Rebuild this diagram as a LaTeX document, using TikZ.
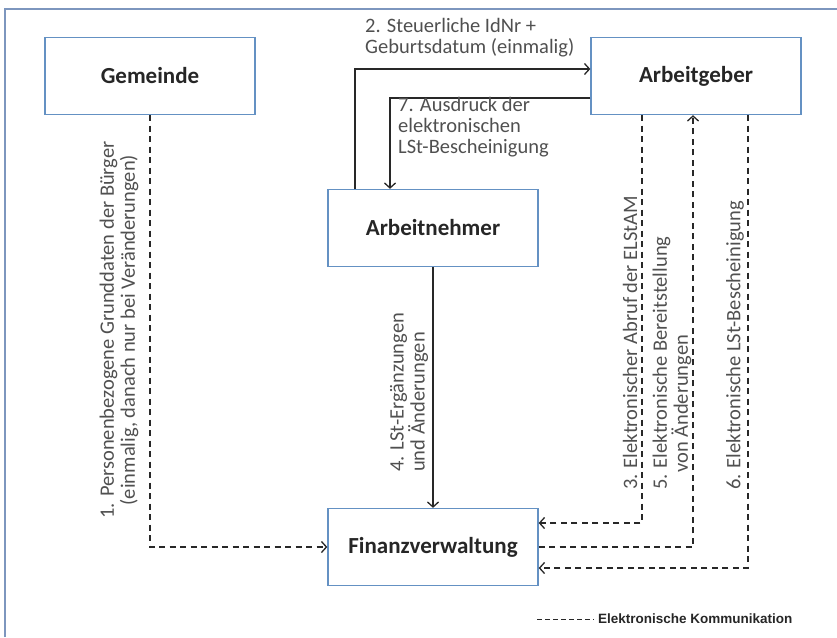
\documentclass[tikz,border=0pt]{standalone}
\usepackage{fontspec}
\setmainfont{Carlito}
\newfontfamily\legendfont{Liberation Sans}
\usetikzlibrary{positioning,arrows.meta}
\definecolor{boxblue}{RGB}{100,145,195}
\definecolor{framecol}{RGB}{125,150,190}
\definecolor{lblgray}{RGB}{80,80,80}
\definecolor{linegray}{RGB}{40,40,40}

\begin{document}
\begin{tikzpicture}[x=1pt, y=-1pt,
    box/.style={rectangle, draw=boxblue, line width=1.3pt, fill=white, minimum width=210pt, minimum height=77pt, font=\fontsize{23}{27}\selectfont\bfseries, text=black!85},
    lbl/.style={inner sep=0pt, font=\fontsize{20.5}{21}\selectfont, text=lblgray},
    flow/.style={draw=linegray, line width=1.3pt, -{Straight Barb[length=5pt,width=11pt]}},
    ekom/.style={flow, dash pattern=on 6pt off 4.5pt}]
    \useasboundingbox (0,0) rectangle (837,637);
    \draw[framecol, line width=1.5pt] (5,637) -- (5,9) -- (837,9);

    \node[box] (gem) at (150,76) {Gemeinde};
    \node[box] (ag) at (696,76) {Arbeitgeber};
    \node[box] (an) at (433,228) {Arbeitnehmer};
    \node[box] (fv) at (433,547) {Finanzverwaltung};

    \draw[ekom] (gem.south) |- (fv.west);
    \draw[flow] ([xshift=-78pt]an.north) |- ([yshift=7pt]ag.west);
    \draw[flow] ([yshift=-22pt]ag.west) -| ([xshift=-43pt]an.north);
    \draw[flow] (an.south) -- (fv.north);
    \draw[ekom] ([xshift=-54pt]ag.south) |- ([yshift=24pt]fv.east);
    \draw[ekom] (fv.east) -| ([xshift=-3pt]ag.south);
    \draw[ekom] ([xshift=52pt]ag.south) |- ([yshift=-21pt]fv.east);

    \node[lbl, anchor=north west, align=left] (l2) at (365,18) {2. Steuerliche IdNr +\\Geburtsdatum (einmalig)};
    \node[lbl, anchor=north west, align=left] (l7) at (398,97) {7. Ausdruck der\\elektronischen\\LSt-Bescheinigung};
    \node[lbl, rotate=90, align=center] (l1) at (119,330) {1. Personenbezogene Grunddaten der Bürger\\(einmalig, danach nur bei Veränderungen)};
    \node[lbl, rotate=90, anchor=west, align=left] (l4) at (409,472) {4. LSt-Ergänzungen\\und Änderungen};
    \node[lbl, rotate=90, anchor=west] (l3) at (630,490) {3. Elektronischer Abruf der ELStAM};
    \node[lbl, rotate=90, anchor=west, align=left] (l5) at (672,490) {5. Elektronische Bereitstellung\\\hspace*{17pt}von Änderungen};
    \node[lbl, rotate=90, anchor=west] (l6) at (735,490) {6. Elektronische LSt-Bescheinigung};

    \node[inner sep=0pt, anchor=west, font=\legendfont\bfseries\fontsize{13.5}{15}\selectfont, text=black!85] (leg) at (598,619) {Elektronische Kommunikation};
    \coordinate (legstart) at (537,619);
    \draw[linegray, line width=1pt, dash pattern=on 5pt off 3pt] (legstart) -- ([xshift=-4pt]leg.west);
\end{tikzpicture}
\end{document}
